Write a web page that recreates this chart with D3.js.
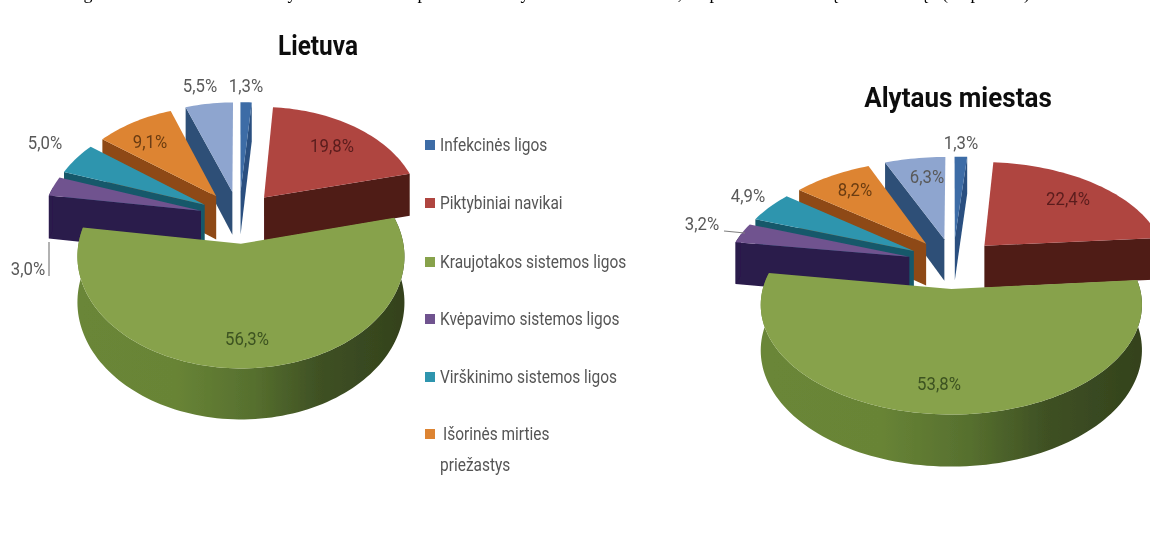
<!DOCTYPE html>
<html><head><meta charset="utf-8">
<script src="https://cdn.jsdelivr.net/npm/d3@7"></script>
<style>html,body{margin:0;padding:0;background:#fff;overflow:hidden}svg{display:block}text{font-family:Roboto,sans-serif}</style>
</head><body><svg id="c" width="1150" height="533"></svg>
<script>
const legendLabels = ["Infekcinės ligos","Piktybiniai navikai","Kraujotakos sistemos ligos","Kvėpavimo sistemos ligos","Virškinimo sistemos ligos","Išorinės mirties"];
const legendWrap = "priežastys";
const valuesLietuva = [1.3,19.8,56.3,3.0,5.0,9.1,5.5];
const valuesAlytus = [1.3,22.4,53.8,3.2,4.9,8.2,6.3];
const titleLietuva = "Lietuva";
const titleAlytus = "Alytaus miestas";
const captionGlyphs = ["g","y","p","y",",","p","ę","ę","(",  "p",")"];

const topColors = ["#3d6ca6","#af4441","#87a24b","#70528f","#2f95ae","#dd8433","#8ea5cf"];
const sideColors = ["#2a5080","#4f1a16","#5f7a33","#2a1a4c","#17586b","#8e4a12","#2f5077"];
const labelColors = ["#595959","#5a1c1c","#3c5220","#595959","#595959","#6b3c12","#595959"];
const captionX = [88,292,422,525,680,714,835,925,945,975,1027];
const legendY = [145,203,262,319,377,434];
const pieA = {cx:239,cy:217,R:158,K:104.5,p:0.11,T:44,E:0.25,id:"gA",
  labels:[[246,86],[332,146],[247,339],[28,269],[45,143],[150,142],[200,86]]};
const pieB = {cx:953,cy:263,R:182,K:100,p:0.14,T:43,E:0.25,id:"gB",
  labels:[[961,143],[1068,199],[939,384],[702,224],[748,196],[855,190],[927,177]]};

const svg = d3.select("#c");
const defs = svg.append("defs");
const blur = defs.append("filter").attr("id","soft").attr("x","-5%").attr("y","-5%").attr("width","110%").attr("height","110%");
blur.append("feGaussianBlur").attr("stdDeviation",0.7);
const blurT = defs.append("filter").attr("id","softT").attr("x","-5%").attr("y","-10%").attr("width","110%").attr("height","120%");
blurT.append("feGaussianBlur").attr("stdDeviation",0.45);
const line = d3.line().x(d=>d[0]).y(d=>d[1]);
const pie = d3.pie().sort(null).value(d=>d);

function squeezed(sel,x,y,sx){
  return sel.append("text").attr("transform",`translate(${x},${y}) scale(${sx},1)`);
}

function drawPie(values,cfg){
  const grad = defs.append("linearGradient").attr("id",cfg.id).attr("gradientUnits","userSpaceOnUse")
    .attr("x1",cfg.cx-cfg.R).attr("x2",cfg.cx+cfg.R).attr("y1",0).attr("y2",0);
  [[0,"#6a8637"],[0.3,"#688436"],[0.55,"#566f2e"],[0.75,"#3f5124"],[1,"#34431d"]]
    .forEach(s=>grad.append("stop").attr("offset",s[0]).attr("stop-color",s[1]));
  const g = svg.append("g").attr("filter","url(#soft)");
  const arcs = pie(values).map((d,i)=>Object.assign(d,{i,mid:(d.startAngle+d.endAngle)/2}));
  const proj = (d,a,r,z)=>{
    const X = cfg.E*Math.sin(d.mid)+r*Math.sin(a), Y = cfg.E*Math.cos(d.mid)+r*Math.cos(a), w = 1+cfg.p*Y;
    return [cfg.cx+cfg.R*X/w, cfg.cy-cfg.K*Y/w+z*cfg.T/w];
  };
  const order = arcs.slice().sort((a,b)=>Math.cos(b.mid)-Math.cos(a.mid));
  order.forEach(d=>{
    const n = Math.max(4,Math.ceil((d.endAngle-d.startAngle)/0.03));
    const as = d3.range(n+1).map(k=>d.startAngle+(d.endAngle-d.startAngle)*k/n);
    const side = d.i===2 ? `url(#${cfg.id})` : sideColors[d.i];
    const face = a => line([proj(d,a,0,0),proj(d,a,1,0),proj(d,a,1,1),proj(d,a,0,1)])+"Z";
    if(Math.sin(d.startAngle)<0) g.append("path").attr("d",face(d.startAngle)).attr("fill",sideColors[d.i]);
    if(Math.sin(d.endAngle)>0) g.append("path").attr("d",face(d.endAngle)).attr("fill",sideColors[d.i]);
    const front = as.filter(a=>Math.cos(a)<0.25);
    if(front.length>1){
      const pts = front.map(a=>proj(d,a,1,0)).concat(front.slice().reverse().map(a=>proj(d,a,1,1)));
      g.append("path").attr("d",line(pts)+"Z").attr("fill",side);
    }
    const pts = [proj(d,0,0,0)].concat(as.map(a=>proj(d,a,1,0)));
    g.append("path").attr("d",line(pts)+"Z").attr("fill",topColors[d.i]);
  });
  const tg = svg.append("g").attr("filter","url(#softT)");
  arcs.forEach(d=>{
    squeezed(tg,cfg.labels[d.i][0],cfg.labels[d.i][1],0.93).attr("dy","0.35em")
      .attr("text-anchor","middle").attr("font-size",18).attr("fill",labelColors[d.i])
      .text(String(d.value.toFixed(1)).replace(".",",")+"%");
  });
}
drawPie(valuesLietuva,pieA);
drawPie(valuesAlytus,pieB);

const lead = svg.append("g").attr("fill","none").attr("stroke","#7f7f7f").attr("stroke-width",1.2).attr("filter","url(#softT)");
lead.append("path").attr("d",line([[49,242],[49,276]]));
lead.append("path").attr("d",line([[724,231],[745,233]]));

const tt = svg.append("g").attr("filter","url(#softT)");
squeezed(tt,318,55,0.87).attr("text-anchor","middle").attr("font-size",28).attr("font-weight","bold").attr("fill","#111").text(titleLietuva);
squeezed(tt,958,107,0.93).attr("text-anchor","middle").attr("font-size",28).attr("font-weight","bold").attr("fill","#111").text(titleAlytus);

const lg = svg.append("g").attr("filter","url(#softT)");
legendLabels.forEach((t,i)=>{
  lg.append("rect").attr("x",425).attr("y",legendY[i]-5).attr("width",10).attr("height",10).attr("fill",topColors[i]);
  squeezed(lg,i===5?443:440,legendY[i],0.86).attr("dy","0.35em").attr("font-size",18).attr("fill","#555").text(t);
});
squeezed(lg,440,465,0.86).attr("dy","0.35em").attr("font-size",18).attr("fill","#555").text(legendWrap);

const cap = svg.append("g").attr("opacity",0.99);
captionGlyphs.forEach((t,i)=>{
  cap.append("text").attr("x",captionX[i]).attr("y",-1).attr("text-anchor","middle")
    .style("font-family","'Liberation Serif',serif").attr("font-size",18).attr("fill","#000").text(t);
});
</script></body></html>
